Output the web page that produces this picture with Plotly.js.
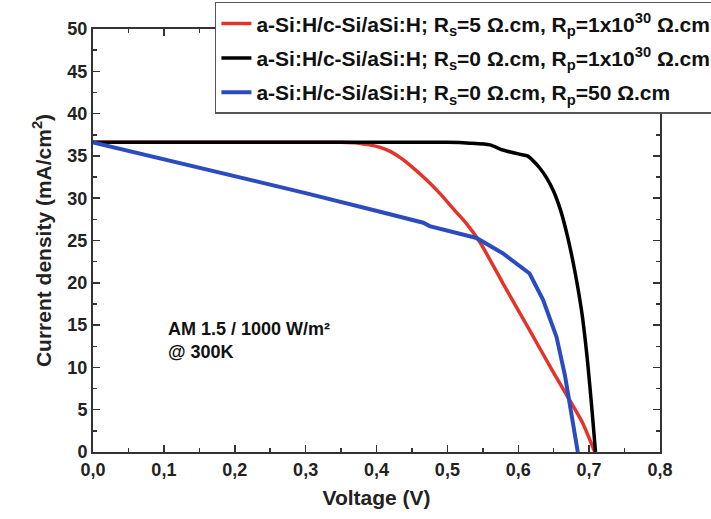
<!DOCTYPE html>
<html>
<head>
<meta charset="utf-8">
<script src="https://cdn.plot.ly/plotly-3.0.1.min.js"></script>
<style>html,body{margin:0;padding:0;background:#fff;}#chart{width:711px;height:519px;}</style>
</head>
<body>
<div id="chart"></div>
<script>
// Series names
var seriesNames = [
  "a-Si:H/c-Si/aSi:H; R<sub>s</sub>=5 \u03A9.cm, R<sub>p</sub>=1x10<sup>30</sup> \u03A9.cm",
  "a-Si:H/c-Si/aSi:H; R<sub>s</sub>=0 \u03A9.cm, R<sub>p</sub>=1x10<sup>30</sup> \u03A9.cm",
  "a-Si:H/c-Si/aSi:H; R<sub>s</sub>=0 \u03A9.cm, R<sub>p</sub>=50 \u03A9.cm"
];

// Red: Rs=5, Rp=1e30
var vRed = [0, 0.1, 0.2, 0.3, 0.35, 0.375, 0.39, 0.405, 0.42, 0.435, 0.45, 0.47, 0.489, 0.51, 0.527, 0.546, 0.578, 0.616, 0.649, 0.670, 0.691, 0.708];
var jRed = [36.6, 36.6, 36.6, 36.6, 36.6, 36.5, 36.3, 36.0, 35.5, 34.7, 33.7, 32.2, 30.6, 28.6, 27.0, 24.8, 20.0, 14.4, 9.5, 6.5, 3.4, 0];

// Black: Rs=0, Rp=1e30
var vBlack = [0, 0.1, 0.2, 0.3, 0.4, 0.5, 0.532, 0.56, 0.578, 0.602, 0.613, 0.62, 0.63, 0.64, 0.65, 0.66, 0.67, 0.68, 0.69, 0.698, 0.704, 0.709];
var jBlack = [36.6, 36.6, 36.6, 36.6, 36.6, 36.6, 36.5, 36.3, 35.7, 35.2, 35.0, 34.5, 33.6, 32.4, 30.8, 28.5, 25.3, 21.3, 16.3, 10.5, 5.0, 0];

// Blue: Rs=0, Rp=50
var vBlue = [0, 0.1, 0.2, 0.264, 0.3, 0.405, 0.466, 0.475, 0.541, 0.578, 0.616, 0.635, 0.654, 0.666, 0.671, 0.678, 0.684];
var jBlue = [36.6, 34.6, 32.6, 31.4, 30.6, 28.4, 27.1, 26.7, 25.3, 23.5, 21.1, 18.0, 13.6, 9.0, 6.5, 3.2, 0];

var annotationText = "AM 1.5 / 1000 W/m\u00B2<br>@ 300K";
var xTitle = "Voltage (V)";
var yTitle = "Current density (mA/cm<sup>2</sup>)";

var fontFam = "Liberation Sans, Arial, sans-serif";

var traces = [
  {x: vRed, y: jRed, name: seriesNames[0], mode: "lines", line: {color: "#e3342a", width: 3.5, shape: "spline", smoothing: 0.6}, legendgroup: "a"},
  {x: vBlack, y: jBlack, name: seriesNames[1], mode: "lines", line: {color: "#000000", width: 3.5, shape: "spline", smoothing: 0.6}, legendgroup: "b"},
  {x: vBlue, y: jBlue, name: seriesNames[2], mode: "lines", line: {color: "#2b4cc0", width: 4}, legendgroup: "c"}
];

var axisCommon = {
  showline: true, linewidth: 2, linecolor: "#333",
  mirror: "allticks", ticks: "inside", ticklen: 7, tickwidth: 1.5, tickcolor: "#333",
  showgrid: false, zeroline: false, automargin: false,
  tickfont: {family: fontFam, size: 18, color: "#222", weight: "bold"}
};

var layout = {
  width: 711, height: 519,
  margin: {l: 93, r: 51, t: 29, b: 67, autoexpand: false},
  paper_bgcolor: "#fff", plot_bgcolor: "#fff",
  separators: ", ",
  showlegend: true,
  xaxis: Object.assign({}, axisCommon, {
    range: [0, 0.8], dtick: 0.1, tick0: 0, tickformat: ".1f",
    minor: {dtick: 0.05, ticks: "inside", ticklen: 4, tickwidth: 1.5, tickcolor: "#333"},
    title: {text: xTitle, font: {family: fontFam, size: 21, color: "#222", weight: "bold"}, standoff: 12}
  }),
  yaxis: Object.assign({}, axisCommon, {
    range: [0, 50], dtick: 5, tick0: 0,
    minor: {dtick: 2.5, ticks: "inside", ticklen: 4, tickwidth: 1.5, tickcolor: "#333"},
    title: {text: yTitle, font: {family: fontFam, size: 21, color: "#222", weight: "bold"}, standoff: 10}
  }),
  legend: {
    x: 0.215, y: 1.064, xanchor: "left", yanchor: "top",
    bgcolor: "#fff", bordercolor: "#555", borderwidth: 1.5,
    font: {family: fontFam, size: 21, color: "#111", weight: "bold"},
    tracegroupgap: 4, itemwidth: 30
  },
  annotations: [{
    x: 0.103, y: 13.2, xref: "x", yref: "y", xanchor: "left", yanchor: "middle",
    text: annotationText, showarrow: false, align: "left",
    font: {family: fontFam, size: 18, color: "#111", weight: "bold"}
  }]
};

Plotly.newPlot("chart", traces, layout, {displayModeBar: false, staticPlot: true});
</script>
</body>
</html>
